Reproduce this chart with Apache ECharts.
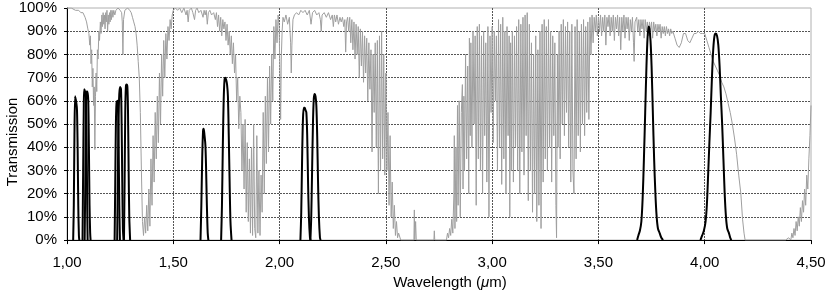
<!DOCTYPE html>
<html>
<head>
<meta charset="utf-8">
<script src="https://cdn.jsdelivr.net/npm/echarts@6/dist/echarts.min.js"></script>
<style>html,body{margin:0;padding:0;background:#fff;}#c{width:830px;height:295px;}</style>
</head>
<body>
<div id="c"></div>
<script>
// Tick settings
const xTicks = { min: 1.0, max: 4.5, step: 0.5 };
const yTicks = { min: 0, max: 100, step: 10 };

// Atmospheric transmission (wavelength µm, transmission %)
const atmosphere = [
[1.000,100],[1.020,100],[1.040,99],[1.055,99],[1.065,98],[1.075,98],[1.085,96],[1.092,94],[1.098,91],[1.103,89],[1.107,84],[1.110,88],[1.113,76],[1.116,82],[1.119,66],[1.122,74],[1.125,58],[1.128,66],[1.131,39],[1.134,62],[1.137,72],[1.140,64],[1.143,82],[1.146,78],[1.150,90],[1.153,86],[1.157,94],[1.160,89],[1.164,97],[1.167,92],[1.170,98],[1.173,93],[1.176,97],[1.179,91],[1.182,98],[1.185,94],[1.188,99],[1.191,90],[1.194,97],[1.197,93],[1.200,98],[1.203,94],[1.206,99],[1.209,95],[1.212,99],[1.216,96],[1.220,99],[1.225,97],[1.230,99],[1.240,100],[1.250,99],[1.257,98],[1.260,94],[1.263,80],[1.266,95],[1.272,99],[1.285,100],[1.295,99],[1.302,98],[1.308,96],[1.314,94],[1.320,92],[1.325,89],[1.330,84],[1.335,77],[1.340,70],[1.345,55],[1.350,30],[1.355,8],
[1.360,2],[1.365,10],[1.370,3],[1.375,15],[1.380,4],[1.385,22],[1.390,6],[1.395,35],[1.400,15],[1.405,45],[1.410,25],[1.415,55],[1.420,35],[1.425,62],[1.430,42],[1.435,72],[1.440,50],[1.445,80],[1.450,62],[1.455,86],[1.460,70],[1.465,89],[1.470,78],[1.475,92],[1.480,86],[1.485,95],[1.490,91],[1.495,97],
[1.500,99],[1.510,100],[1.520,99],[1.530,100],[1.540,98],[1.550,100],[1.560,97],[1.565,99],[1.570,94],[1.575,99],[1.585,100],[1.592,98],[1.600,95],[1.605,99],[1.612,100],[1.620,98],[1.630,99],[1.640,96],[1.645,99],[1.650,97],[1.655,99],[1.660,93],[1.665,98],[1.672,99],[1.680,97],[1.690,98],[1.698,95],[1.703,98],[1.708,92],[1.713,97],[1.718,90],[1.723,96],[1.728,88],[1.733,95],[1.738,91],[1.743,94],[1.748,86],[1.753,93],[1.758,84],[1.763,90],[1.768,80],[1.773,88],
[1.778,76],[1.783,85],[1.788,72],[1.793,80],[1.798,60],[1.803,70],[1.808,48],[1.813,62],[1.818,55],[1.823,30],[1.828,50],[1.833,22],[1.838,52],[1.843,12],[1.848,42],[1.853,8],[1.858,35],[1.863,3],[1.868,40],[1.873,2],[1.878,50],[1.883,5],[1.888,1],[1.893,45],[1.898,3],[1.903,30],[1.908,2],[1.913,28],[1.918,12],[1.923,55],[1.928,20],[1.933,62],[1.938,33],[1.943,70],[1.948,38],[1.953,75],[1.958,50],[1.963,80],[1.968,60],[1.973,92],[1.978,78],[1.983,95],[1.988,85],[1.993,97],
[1.998,92],[2.002,70],[2.005,52],[2.008,78],[2.012,90],[2.016,96],[2.022,94],[2.030,97],[2.038,93],[2.046,96],[2.052,85],[2.055,72],[2.058,84],[2.063,95],[2.070,97],[2.080,98],[2.090,97],[2.100,99],[2.110,98],[2.120,99],[2.130,97],[2.140,99],[2.148,93],[2.155,98],[2.165,99],[2.175,97],[2.185,98],[2.192,95],[2.196,90],[2.200,97],[2.210,98],[2.220,96],[2.230,98],[2.240,95],[2.248,97],[2.253,92],[2.258,97],[2.264,94],[2.270,97],[2.277,93],[2.284,96],[2.290,94],[2.296,96],[2.302,92],[2.307,95],[2.311,81],[2.315,94],
[2.320,96],[2.325,90],[2.330,96],[2.335,85],[2.340,95],[2.345,82],[2.350,94],[2.355,78],[2.360,93],[2.365,80],[2.370,92],[2.375,70],[2.380,91],[2.385,75],[2.390,90],[2.395,68],[2.400,88],[2.405,72],[2.410,87],[2.415,60],[2.420,85],[2.425,65],[2.430,82],[2.435,38],[2.440,80],[2.445,55],[2.450,85],[2.455,40],[2.460,86],[2.465,20],[2.470,88],[2.475,30],[2.480,90],[2.485,35],[2.490,80],[2.495,28],[2.500,72],[2.505,30],[2.510,55],[2.515,15],[2.520,45],[2.525,10],[2.530,25],[2.535,5],[2.540,15],[2.545,2],[2.550,8],[2.555,1],[2.560,3],[2.570,0],
[2.580,0],[2.632,0],[2.634,13],[2.636,0],[2.640,8],[2.643,0],[2.700,0],[2.726,0],[2.728,4],[2.730,0],[2.785,0],[2.790,3],[2.795,1],[2.800,5],[2.805,2],[2.810,9],[2.815,3],
[2.820,20],[2.822,45],[2.825,5],[2.830,40],[2.833,8],[2.837,58],[2.840,15],[2.845,60],[2.850,10],[2.855,55],[2.860,67],[2.863,22],[2.867,62],[2.870,30],[2.875,80],[2.880,35],[2.885,75],[2.890,20],[2.893,87],[2.897,45],[2.900,85],[2.905,40],[2.910,90],[2.915,50],[2.920,88],[2.925,15],[2.930,92],[2.935,35],[2.940,93],[2.945,30],[2.950,88],[2.955,20],[2.960,90],[2.965,45],[2.970,85],[2.975,25],[2.980,92],[2.985,10],[2.990,88],[2.995,55],
[3.000,92],[3.005,42],[3.010,90],[3.015,60],[3.020,88],[3.025,30],[3.030,95],[3.035,40],[3.040,93],[3.045,24],[3.050,96],[3.055,35],[3.060,90],[3.065,20],[3.070,92],[3.075,45],[3.080,88],[3.083,10],[3.087,85],[3.090,30],[3.095,90],[3.100,25],[3.105,88],[3.110,40],[3.115,92],[3.120,30],[3.125,95],[3.130,20],[3.135,93],[3.140,38],[3.145,96],[3.150,28],[3.155,97],[3.160,45],[3.165,98],[3.170,17],[3.175,93],[3.180,30],[3.185,85],[3.190,12],[3.195,80],[3.200,20],[3.205,88],[3.210,8],[3.215,82],[3.220,15],[3.225,90],[3.230,5],[3.235,93],[3.240,25],[3.245,95],[3.250,35],[3.255,92],[3.260,30],[3.265,95],[3.270,40],[3.275,90],[3.280,25],[3.285,88],[3.290,45],[3.295,85],[3.300,15],[3.303,1],[3.307,80],[3.310,40],[3.315,90],[3.320,35],[3.325,93],[3.330,50],[3.335,95],[3.340,45],[3.345,92],[3.350,55],[3.355,94],[3.360,40],[3.365,90],[3.370,25],[3.375,93],[3.380,30],[3.385,20],[3.390,92],[3.395,35],[3.400,95],[3.405,45],[3.410,90],[3.415,38],[3.420,93],[3.425,50],[3.430,95],[3.435,45],[3.440,92],[3.445,55],[3.450,94],[3.455,52],[3.460,96],[3.465,80],[3.470,97],[3.475,85],[3.480,96],[3.485,90],[3.490,97],[3.495,88],
[3.500,96],[3.505,90],[3.510,97],[3.515,88],[3.520,96],[3.525,90],[3.530,97],[3.535,84],[3.540,96],[3.545,92],[3.550,97],[3.555,88],[3.560,96],[3.565,90],[3.570,97],[3.575,86],[3.580,96],[3.585,91],[3.590,97],[3.595,88],[3.600,96],[3.605,82],[3.610,96],[3.615,90],[3.620,97],[3.625,87],[3.630,96],[3.635,91],[3.640,96],[3.645,86],[3.650,95],[3.655,90],[3.660,96],[3.665,85],[3.668,77],[3.672,94],[3.680,96],[3.685,90],[3.690,95],[3.695,88],[3.700,95],[3.705,91],[3.710,95],[3.715,87],[3.720,95],[3.725,90],[3.730,94],[3.735,88],[3.740,94],[3.745,90],[3.750,94],[3.755,87],[3.760,94],[3.765,90],[3.770,93],[3.775,88],[3.780,93],[3.785,90],[3.790,93],[3.795,87],[3.800,92],[3.805,89],[3.810,92],[3.815,88],[3.820,92],[3.825,89],[3.830,91],[3.835,88],[3.840,91],[3.845,89],[3.850,90],[3.860,87],[3.870,84],[3.880,83],[3.890,85],[3.900,89],[3.910,89],[3.920,86],[3.930,85],[3.940,87],[3.950,89],[3.960,89],[3.970,90],[3.980,89],[3.990,89],
[4.000,89],[4.010,86],[4.020,83],[4.030,80],[4.040,77],[4.050,75],[4.060,73],[4.070,71],[4.080,68],[4.090,66],[4.100,63],[4.110,59],[4.120,55],[4.130,50],[4.140,44],[4.150,37],[4.160,28],[4.170,20],[4.178,9],[4.185,3],[4.190,0],[4.380,0],[4.395,1],[4.405,0],[4.410,3],[4.415,1],[4.420,5],[4.425,2],[4.430,8],[4.435,4],[4.440,10],[4.445,6],[4.450,14],[4.455,8],[4.460,17],[4.465,12],[4.470,22],[4.475,15],[4.480,28],[4.485,22],[4.490,35],[4.495,45],[4.500,58]
];

// Filter transmission curves (wavelength µm, transmission %)
const filterJ1 = [[1.029,0],[1.032,15],[1.035,45],[1.038,62],[1.040,62],[1.044,59],[1.047,56],[1.050,40],[1.053,15],[1.056,2],[1.058,0]];
const filterJ2a = [[1.073,0],[1.076,30],[1.079,58],[1.081,65],[1.085,64],[1.089,62],[1.092,45],[1.095,15],[1.097,0]];
const filterJ2b = [[1.083,0],[1.086,25],[1.089,55],[1.092,64],[1.096,64],[1.100,60],[1.103,40],[1.106,15],[1.109,3],[1.111,0]];
const filterJ3a = [[1.224,0],[1.227,25],[1.230,50],[1.233,59],[1.237,60],[1.240,58],[1.243,40],[1.246,15],[1.249,0]];
const filterJ3b = [[1.236,0],[1.239,25],[1.242,50],[1.246,63],[1.250,66],[1.254,65],[1.257,50],[1.260,25],[1.263,5],[1.266,0]];
const filterJ4 = [[1.268,0],[1.271,25],[1.274,55],[1.277,66],[1.280,67],[1.284,66],[1.287,55],[1.290,30],[1.293,10],[1.297,0]];
const filterH1 = [[1.628,0],[1.632,15],[1.636,35],[1.640,47],[1.643,48],[1.647,45],[1.651,41],[1.654,32],[1.658,15],[1.662,3],[1.665,0]];
const filterH2 = [[1.725,0],[1.729,15],[1.733,40],[1.737,60],[1.741,69],[1.745,70],[1.749,69],[1.753,67],[1.757,62],[1.761,45],[1.765,25],[1.769,8],[1.774,0]];
const filterK1 = [[2.098,0],[2.102,12],[2.106,35],[2.110,52],[2.114,57],[2.118,57],[2.122,56],[2.126,55],[2.130,45],[2.134,25],[2.138,10],[2.143,1],[2.146,0]];
const filterK2 = [[2.145,0],[2.149,10],[2.153,30],[2.157,50],[2.161,61],[2.165,63],[2.169,62],[2.173,58],[2.177,45],[2.181,25],[2.185,10],[2.190,1],[2.193,0]];
const filterL1 = [[3.682,0],[3.688,2],[3.695,4],[3.702,8],[3.708,18],[3.714,35],[3.720,55],[3.726,75],[3.731,87],[3.736,92],[3.740,91],[3.745,86],[3.750,75],[3.756,55],[3.762,35],[3.768,20],[3.774,10],[3.780,5],[3.788,3],[3.796,1],[3.804,0]];
const filterL2 = [[3.980,0],[3.988,2],[3.996,4],[4.004,8],[4.010,15],[4.016,28],[4.022,42],[4.028,55],[4.034,70],[4.040,82],[4.046,88],[4.052,89],[4.058,88],[4.064,84],[4.070,75],[4.076,62],[4.082,50],[4.088,35],[4.094,20],[4.100,10],[4.106,5],[4.114,3],[4.120,1],[4.125,0]];

const filters = [filterJ1, filterJ2a, filterJ2b, filterJ3a, filterJ3b, filterJ4, filterH1, filterH2, filterK1, filterK2, filterL1, filterL2];

const FONT = '"Liberation Sans", Arial, Helvetica, sans-serif';
const chart = echarts.init(document.getElementById('c'), null, { renderer: 'canvas' });

const series = [{
  type: 'line', data: atmosphere, showSymbol: false, symbol: 'none',
  lineStyle: { color: '#9f9f9f', width: 1 }, z: 2, silent: true
}];
filters.forEach(f => series.push({
  type: 'line', data: f, showSymbol: false, symbol: 'none', smooth: 0.3,
  lineStyle: { color: '#000', width: 2 }, z: 3, silent: true
}));

chart.setOption({
  animation: false,
  backgroundColor: '#fff',
  grid: { left: 67, right: 19, top: 8, bottom: 51, show: true, borderColor: '#b0b0b0', borderWidth: 1, containLabel: false },
  xAxis: {
    type: 'value', min: xTicks.min, max: xTicks.max, interval: xTicks.step,
    name: 'Wavelength ({i|μ}m)', nameLocation: 'middle', nameGap: 30,
    nameTextStyle: { fontFamily: FONT, fontSize: 15, color: '#000', padding: [0, 0, 0, 22],
      rich: { i: { fontStyle: 'italic', fontFamily: FONT, fontSize: 15, color: '#000' } } },
    axisLine: { show: true, lineStyle: { color: '#000', width: 1 } },
    axisTick: { show: true, length: 4, lineStyle: { color: '#000' } },
    axisLabel: { fontFamily: FONT, fontSize: 15, color: '#000', margin: 15,
      formatter: v => v.toFixed(2).replace('.', ',') },
    splitLine: { show: true, showMinLine: false, showMaxLine: false, lineStyle: { color: '#555', width: 1, type: [2, 1] } }
  },
  yAxis: {
    type: 'value', min: yTicks.min, max: yTicks.max, interval: yTicks.step,
    axisLine: { show: true, lineStyle: { color: '#000', width: 1 } },
    axisTick: { show: true, length: 3, lineStyle: { color: '#000' } },
    axisLabel: { fontFamily: FONT, fontSize: 15, color: '#000', margin: 10, formatter: v => v + '%' },
    splitLine: { show: true, showMinLine: false, showMaxLine: false, lineStyle: { color: '#555', width: 1, type: [2, 1] } }
  },
  graphic: [{
    type: 'text', x: 13, y: 142, rotation: Math.PI / 2,
    style: { text: 'Transmission', font: '15px ' + FONT, fill: '#000', align: 'center', verticalAlign: 'middle' }
  }],
  series: series
});
</script>
</body>
</html>
